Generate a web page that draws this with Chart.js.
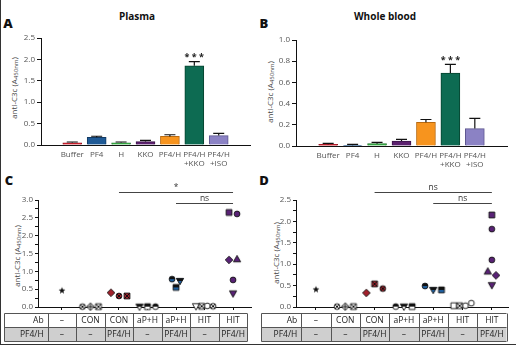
<!DOCTYPE html>
<html>
<head>
<meta charset="utf-8">
<script src="https://cdn.jsdelivr.net/npm/chart.js@4.4.0/dist/chart.umd.min.js"></script>
<style>
body { margin: 0; background: #fff; font-family: 'Open Sans', sans-serif; }
#fig { position: relative; width: 520px; height: 348px; overflow: hidden; }
canvas { position: absolute; }
.lbl { position: absolute; font-weight: 800; font-size: 13px; color: #111; transform: translate(-50%, -50%); }
.title { position: absolute; font-weight: 700; font-size: 10px; color: #111; transform: translate(-50%, -50%); white-space: nowrap; }
.ytitle { position: absolute; font-size: 8px; color: #444; white-space: nowrap; transform: translate(-50%, -50%) rotate(-90deg); }
.ytitle sub { font-size: 6px; vertical-align: -1px; }
#frame { position: absolute; left: 0; top: 0; width: 515px; height: 344px; border-left: 1.5px solid #333; border-bottom: 1.5px solid #333; }
</style>
</head>
<body>
<div id="fig">
  <div id="frame"></div>
  <div class="lbl" style="left:8px;top:23px">A</div>
  <div class="lbl" style="left:264px;top:23px">B</div>
  <div class="lbl" style="left:9px;top:180px">C</div>
  <div class="lbl" style="left:264px;top:180px">D</div>
  <div class="title" style="left:137px;top:16px">Plasma</div>
  <div class="title" style="left:385px;top:16px">Whole blood</div>
  <div class="ytitle" style="left:14px;top:88px">anti-C3c (A<sub>450nm</sub>)</div>
  <div class="ytitle" style="left:270px;top:92px">anti-C3c (A<sub>450nm</sub>)</div>
  <div class="ytitle" style="left:17px;top:256px">anti-C3c (A<sub>450nm</sub>)</div>
  <div class="ytitle" style="left:276px;top:253px">anti-C3c (A<sub>450nm</sub>)</div>
  <canvas id="chartA" width="260" height="175" style="left:0;top:0"></canvas>
  <canvas id="chartB" width="260" height="175" style="left:260px;top:0"></canvas>
  <canvas id="chartC" width="260" height="178" style="left:0;top:170px"></canvas>
  <canvas id="chartD" width="260" height="178" style="left:260px;top:170px"></canvas>
</div>
<script>
// bar panels (A, B)
const barCats = ['Buffer', 'PF4', 'H', 'KKO', 'PF4/H', ['PF4/H', '+KKO'], ['PF4/H', '+ISO']];
const barColors = ['#d6212f', '#1f5a96', '#3cb54a', '#5c216f', '#f7941e', '#0d6b52', '#8b82c4'];
const barEdges = ['#8e1520', '#123a63', '#23792e', '#3b1348', '#b96a10', '#07432f', '#5e5790'];
const plasmaMeans = [0.05, 0.18, 0.05, 0.08, 0.20, 1.85, 0.22];
const plasmaErr = [0.02, 0.025, 0.02, 0.03, 0.04, 0.10, 0.05];
const plasmaSig = ['', '', '', '', '', '***', ''];
const bloodMeans = [0.016, 0.006, 0.022, 0.047, 0.224, 0.688, 0.164];
const bloodErr = [0.009, 0.01, 0.013, 0.016, 0.026, 0.082, 0.096];
const bloodSig = ['', '', '', '', '', '***', ''];

// dot panels (C, D)
const groupsAb = ['–', 'CON', 'CON', 'aP+H', 'aP+H', 'HIT', 'HIT'];
const groupsPF4H = ['–', '–', 'PF4/H', '–', 'PF4/H', '–', 'PF4/H'];
const groupColors = ['#111', '#fff', '#a3202b', '#fff', '#1d5fa0', '#fff', '#5a2277'];
const plasmaPts = [
    [0.46],
    [0.01, 0.01, 0.01],
    [0.40, 0.31, 0.31],
    [0.01, 0.01, 0.01],
    [0.78, 0.55, 0.73],
    [0.02, 0.02, 0.03, 0.02],
    [2.65, 2.61, 1.32, 1.34, 0.76, 0.38]
];
const plasmaShapes = [
    ['star'],
    ['circleX', 'diamondPlus', 'squareX'],
    ['diamond', 'circleX', 'squareX'],
    ['triangleDownHalf', 'squareHalf', 'circleHalf'],
    ['circleHalf', 'squareHalf', 'triangleDownHalf'],
    ['triangleDown', 'squareX', 'circle', 'circleX'],
    ['square', 'circle', 'diamond', 'triangle', 'circle', 'triangleDown']
];
const bloodPts = [
    [0.41],
    [0.01, 0.01, 0.01],
    [0.33, 0.54, 0.43],
    [0.01, 0.01, 0.01],
    [0.49, 0.40, 0.40],
    [0.03, 0.03, 0.03, 0.09],
    [2.15, 1.82, 1.10, 0.83, 0.74, 0.51]
];
const bloodShapes = [
    ['star'],
    ['circleX', 'diamondPlus', 'squareX'],
    ['diamond', 'squareX', 'circleX'],
    ['circleHalf', 'triangleDownHalf', 'squareHalf'],
    ['circleHalf', 'triangleDownHalf', 'squareHalf'],
    ['square', 'squareX', 'circle', 'circle'],
    ['square', 'circle', 'circle', 'triangle', 'diamond', 'triangleDown']
];
const plasmaBrackets = [{ from: 2, to: 6, label: '*' }, { from: 4, to: 6, label: 'ns' }];
const bloodBrackets = [{ from: 2, to: 6, label: 'ns' }, { from: 4, to: 6, label: 'ns' }];

Chart.defaults.font.family = "'Open Sans', sans-serif";
Chart.defaults.font.size = 8;
Chart.defaults.color = '#555';

function marker(name, color) {
    const c = document.createElement('canvas');
    c.width = 12; c.height = 12;
    const g = c.getContext('2d');
    const m = 6, r = 2.9;
    const base = name.replace(/X|Plus|Half/g, '');
    const p = new Path2D();
    if (base === 'circle') p.arc(m, m, r, 0, Math.PI * 2);
    else if (base === 'square') p.rect(m - r, m - r, r * 2, r * 2);
    else if (base === 'diamond') {
        p.moveTo(m, m - r * 1.3); p.lineTo(m + r * 1.3, m); p.lineTo(m, m + r * 1.3); p.lineTo(m - r * 1.3, m); p.closePath();
    } else if (base === 'triangle') {
        p.moveTo(m, m - r * 1.3); p.lineTo(m + r * 1.25, m + r * 0.9); p.lineTo(m - r * 1.25, m + r * 0.9); p.closePath();
    } else if (base === 'triangleDown') {
        p.moveTo(m, m + r * 1.3); p.lineTo(m + r * 1.25, m - r * 0.9); p.lineTo(m - r * 1.25, m - r * 0.9); p.closePath();
    } else if (base === 'star') {
        for (let k = 0; k < 10; k++) {
            const rr = k % 2 ? 1.5 : 3.6;
            const a = -Math.PI / 2 + k * Math.PI / 5;
            p.lineTo(m + rr * Math.cos(a), m + rr * Math.sin(a));
        }
        p.closePath();
    }
    g.fillStyle = base === 'star' ? '#111' : color;
    g.fill(p);
    g.save();
    g.clip(p);
    g.strokeStyle = '#111';
    g.lineWidth = 1;
    if (name.endsWith('Half')) { g.fillStyle = '#111'; g.fillRect(0, 0, 12, m); }
    if (name.endsWith('X')) {
        g.beginPath(); g.moveTo(m - r, m - r); g.lineTo(m + r, m + r); g.moveTo(m + r, m - r); g.lineTo(m - r, m + r); g.stroke();
    }
    if (name.endsWith('Plus')) {
        g.beginPath(); g.moveTo(m, m - r * 1.3); g.lineTo(m, m + r * 1.3); g.moveTo(m - r * 1.3, m); g.lineTo(m + r * 1.3, m); g.stroke();
    }
    g.restore();
    if (base !== 'star') { g.lineWidth = 0.9; g.strokeStyle = '#111'; g.stroke(p); }
    return c;
}

// spread points of one group sideways when their values sit close together
function jitter(vals, thr) {
    const off = vals.map(() => 0);
    const order = vals.map((v, i) => i).sort((a, b) => vals[b] - vals[a]);
    const clusters = [];
    let cur = [order[0]];
    for (let k = 1; k < order.length; k++) {
        if (vals[cur[cur.length - 1]] - vals[order[k]] < thr) cur.push(order[k]);
        else { clusters.push(cur); cur = [order[k]]; }
    }
    clusters.push(cur);
    clusters.forEach(cl => {
        cl.sort((a, b) => a - b);
        const step = cl.length > 3 ? 0.2 : 0.28;
        cl.forEach((i, pos) => { off[i] = (pos - (cl.length - 1) / 2) * step; });
    });
    return off;
}

const errorBars = {
    id: 'errorBars',
    afterDatasetsDraw(chart, args, opts) {
        const ctx = chart.ctx, y = chart.scales.y;
        const meta = chart.getDatasetMeta(0);
        const ds = chart.data.datasets[0].data;
        ctx.save();
        ctx.strokeStyle = '#111';
        ctx.lineWidth = 1.2;
        opts.err.forEach((e, i) => {
            const bar = meta.data[i];
            const top = y.getPixelForValue(ds[i].y + e);
            ctx.beginPath();
            ctx.moveTo(bar.x, bar.y);
            ctx.lineTo(bar.x, top);
            ctx.moveTo(bar.x - 5.5, top);
            ctx.lineTo(bar.x + 5.5, top);
            ctx.stroke();
            if (opts.sig[i]) {
                ctx.fillStyle = '#222';
                ctx.font = "bold 9px 'Open Sans'";
                ctx.textAlign = 'center';
                ctx.textBaseline = 'middle';
                ctx.fillText(opts.sig[i].split('').join(' '), bar.x, top - 4);
            }
        });
        ctx.restore();
    }
};

const brackets = {
    id: 'brackets',
    afterDraw(chart, args, opts) {
        const ctx = chart.ctx, x = chart.scales.x, top = chart.chartArea.top;
        opts.items.forEach((b, k) => {
            const y = Math.round(top + (k === 0 ? -8 : 3)) + 0.5;
            const x1 = x.getPixelForValue(b.from), x2 = x.getPixelForValue(b.to);
            ctx.save();
            ctx.strokeStyle = '#444';
            ctx.lineWidth = 1;
            ctx.beginPath();
            ctx.moveTo(x1, y);
            ctx.lineTo(x2, y);
            ctx.stroke();
            ctx.fillStyle = '#333';
            ctx.font = "8.5px 'Open Sans'";
            ctx.textAlign = 'center';
            ctx.textBaseline = 'bottom';
            ctx.fillText(b.label, (x1 + x2) / 2, y - 1);
            ctx.restore();
        });
    }
};

const groupTable = {
    id: 'groupTable',
    afterDraw(chart, args, opts) {
        const ctx = chart.ctx, x = chart.scales.x;
        const top = Math.round(chart.chartArea.bottom + 6) + 0.5, rowH = 14;
        const bounds = [];
        for (let i = 0; i <= groupsAb.length; i++) bounds.push(x.getPixelForValue(i - 0.5));
        const left = Math.round(bounds[0] - opts.labelWidth) + 0.5;
        const right = bounds[bounds.length - 1];
        ctx.save();
        ctx.fillStyle = '#cfcfcf';
        ctx.fillRect(left, top + rowH, right - left, rowH);
        ctx.strokeStyle = '#555';
        ctx.lineWidth = 1;
        ctx.beginPath();
        [0, 1, 2].forEach(r => { ctx.moveTo(left, top + r * rowH); ctx.lineTo(right, top + r * rowH); });
        ctx.moveTo(left, top); ctx.lineTo(left, top + 2 * rowH);
        bounds.forEach(bx => { const px = Math.round(bx) + 0.5; ctx.moveTo(px, top); ctx.lineTo(px, top + 2 * rowH); });
        ctx.stroke();
        ctx.fillStyle = '#222';
        ctx.font = "8.5px 'Open Sans'";
        ctx.textBaseline = 'middle';
        ctx.textAlign = 'right';
        ctx.fillText('Ab', bounds[0] - 4, top + rowH / 2);
        ctx.fillText('PF4/H', bounds[0] - 4, top + rowH * 1.5);
        ctx.textAlign = 'center';
        groupsAb.forEach((t, i) => {
            const cx = x.getPixelForValue(i);
            ctx.fillText(t, cx, top + rowH / 2);
            ctx.fillText(groupsPF4H[i], cx, top + rowH * 1.5);
        });
        ctx.restore();
    }
};

function indexTicks(scale) {
    scale.ticks = barCats.map((c, i) => ({ value: i }));
}

function makeBarChart(id, means, errs, sig, yMax, yStep, box) {
    return new Chart(document.getElementById(id), {
        type: 'bar',
        data: {
            datasets: [{
                data: means.map((m, i) => ({ x: i, y: m })),
                backgroundColor: barColors,
                borderColor: barEdges,
                borderWidth: 1,
                barThickness: 19
            }]
        },
        options: {
            responsive: false,
            animation: false,
            layout: { padding: { top: box.top, right: box.right, left: 0, bottom: 0 } },
            plugins: { legend: { display: false }, tooltip: { enabled: false }, errorBars: { err: errs, sig: sig } },
            scales: {
                x: {
                    type: 'linear', min: box.xMin, max: box.xMax,
                    afterBuildTicks: indexTicks,
                    afterFit: s => { s.height = box.xh; },
                    grid: { display: false, drawTicks: false },
                    border: { color: '#111', width: 1 },
                    ticks: { padding: 5, maxRotation: 0, autoSkip: false, callback: v => barCats[v], font: { size: 8, lineHeight: 1.15 } }
                },
                y: {
                    min: 0, max: yMax,
                    afterFit: s => { s.width = box.yw; },
                    grid: { drawOnChartArea: false, tickLength: 4, color: '#111' },
                    border: { color: '#111', width: 1 },
                    ticks: { stepSize: yStep, padding: 2, callback: v => v.toFixed(1) }
                }
            }
        },
        plugins: [errorBars]
    });
}

function makeDotChart(id, pts, shapes, brs, yMax, box) {
    const data = [], styles = [];
    pts.forEach((vals, g) => {
        const off = jitter(vals, yMax * 0.055);
        vals.forEach((v, i) => {
            data.push({ x: g + off[i], y: v });
            styles.push(marker(shapes[g][i], groupColors[g]));
        });
    });
    return new Chart(document.getElementById(id), {
        type: 'scatter',
        data: { datasets: [{ data: data, pointStyle: styles, pointRadius: 4, clip: false }] },
        options: {
            responsive: false,
            animation: false,
            layout: { padding: { top: box.top, right: box.right, left: 0, bottom: 0 } },
            plugins: { legend: { display: false }, tooltip: { enabled: false }, brackets: { items: brs }, groupTable: { labelWidth: box.lw } },
            scales: {
                x: {
                    type: 'linear', min: box.xMin, max: box.xMax,
                    afterBuildTicks: indexTicks,
                    afterFit: s => { s.height = box.xh; },
                    grid: { drawOnChartArea: false, tickLength: 3, color: '#111' },
                    border: { color: '#111', width: 1 },
                    ticks: { display: false }
                },
                y: {
                    min: 0, max: yMax,
                    afterFit: s => { s.width = box.yw; },
                    grid: { drawOnChartArea: false, tickLength: 3, color: '#111' },
                    border: { color: '#111', width: 1 },
                    ticks: { stepSize: 0.25, padding: 2, autoSkip: false, callback: v => (Math.abs(v * 2 - Math.round(v * 2)) < 1e-6 ? v.toFixed(1) : '') }
                }
            }
        },
        plugins: [brackets, groupTable]
    });
}

makeBarChart('chartA', plasmaMeans, plasmaErr, plasmaSig, 2.5, 0.5,
    { top: 38, right: 10, yw: 41, xh: 30, xMin: -0.67, xMax: 6.67 });
makeBarChart('chartB', bloodMeans, bloodErr, bloodSig, 1.0, 0.2,
    { top: 40, right: 13, yw: 36, xh: 29, xMin: -0.7, xMax: 6.7 });
makeDotChart('chartC', plasmaPts, plasmaShapes, plasmaBrackets, 3.0,
    { top: 30, right: 9, yw: 38, xh: 41, xMin: -0.84, xMax: 6.63, lw: 44 });
makeDotChart('chartD', bloodPts, bloodShapes, bloodBrackets, 2.5,
    { top: 30, right: 12, yw: 36, xh: 41, xMin: -0.68, xMax: 6.55, lw: 40 });
</script>
</body>
</html>
